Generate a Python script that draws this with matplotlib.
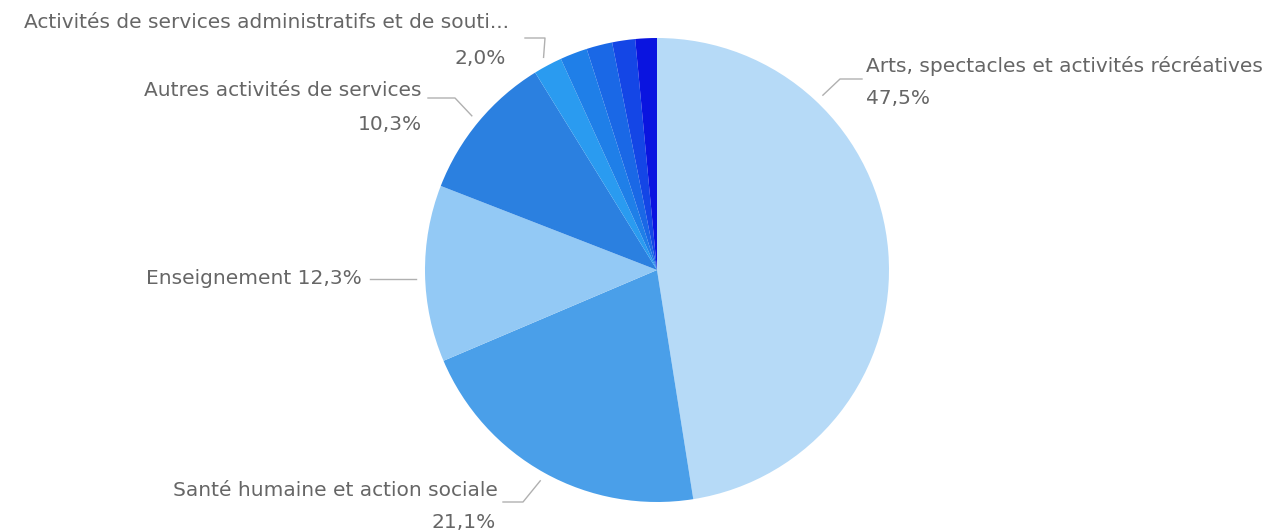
import numpy as np
import matplotlib
matplotlib.use("Agg")
import matplotlib.pyplot as plt

# data
categories = [
    "Arts, spectacles et activités récréatives",
    "Santé humaine et action sociale",
    "Enseignement",
    "Autres activités de services",
    "Activités de services administratifs et de souti...",
    "Hébergement et restauration",
    "Information et communication",
    "Activités spécialisées, scientifiques et techniques",
    "Commerce",
]
shares = [47.5, 21.1, 12.3, 10.3, 2.0, 1.9, 1.8, 1.6, 1.5]
colors = ["#b6daf7", "#4a9fe9", "#93c9f5", "#2b80e0", "#2a9bf0",
          "#1f7fe8", "#1a68e6", "#1446e6", "#0a14e0"]

W, H = 1268, 531
cx, cy, R = 657, 270, 232

def fy(y):
    return H - y

fig = plt.figure(figsize=(W / 100, H / 100), dpi=100)
ax = fig.add_axes([0, 0, 1, 1])

wedges, _ = ax.pie(shares, colors=colors, startangle=90, counterclock=False,
                   center=(cx, fy(cy)), radius=R, frame=True,
                   wedgeprops=dict(linewidth=0))
ax.set_xlim(0, W)
ax.set_ylim(0, H)
ax.set_aspect("equal")
ax.axis("off")

def pct(v):
    return ("%.1f%%" % v).replace(".", ",")

txt = dict(color="#666666", fontsize=14.5, family=["DejaVu Sans"])
lc = "#b0b0b0"

# label layout: index, anchor angle override, elbow, line end, text pos, pct pos, align
labels = [
    (0, 46.5, (840, 79), (862, 79), (866, 66), (866, 99), "left"),
    (4, None, (545, 38), (525, 38), (509, 22), (506, 58), "right"),
    (3, None, (455, 98), (428, 98), (422, 91), (422, 124), "right"),
    (1, None, (523, 502), (503, 502), (498, 491), (496, 522), "right"),
]

for i, ang, elbow, end, p1, p2, ha in labels:
    w = wedges[i]
    if ang is None:
        ang = (w.theta1 + w.theta2) / 2
    a = np.deg2rad(ang)
    ax0 = cx + (R + 9) * np.cos(a)
    ay0 = fy(cy) + (R + 9) * np.sin(a)
    ax.plot([ax0, elbow[0], end[0]], [ay0, fy(elbow[1]), fy(end[1])],
            color=lc, lw=1)
    ax.text(p1[0], fy(p1[1]), categories[i], ha=ha, va="center", **txt)
    ax.text(p2[0], fy(p2[1]), pct(shares[i]), ha=ha, va="center", **txt)

# Enseignement: single line label
w = wedges[2]
a = np.deg2rad((w.theta1 + w.theta2) / 2)
ax0 = cx + (R + 9) * np.cos(a)
ax.plot([ax0, 370], [fy(279), fy(279)], color=lc, lw=1)
ax.text(362, fy(279), categories[2] + " " + pct(shares[2]),
        ha="right", va="center", **txt)

fig.savefig("out.png", dpi=100)
